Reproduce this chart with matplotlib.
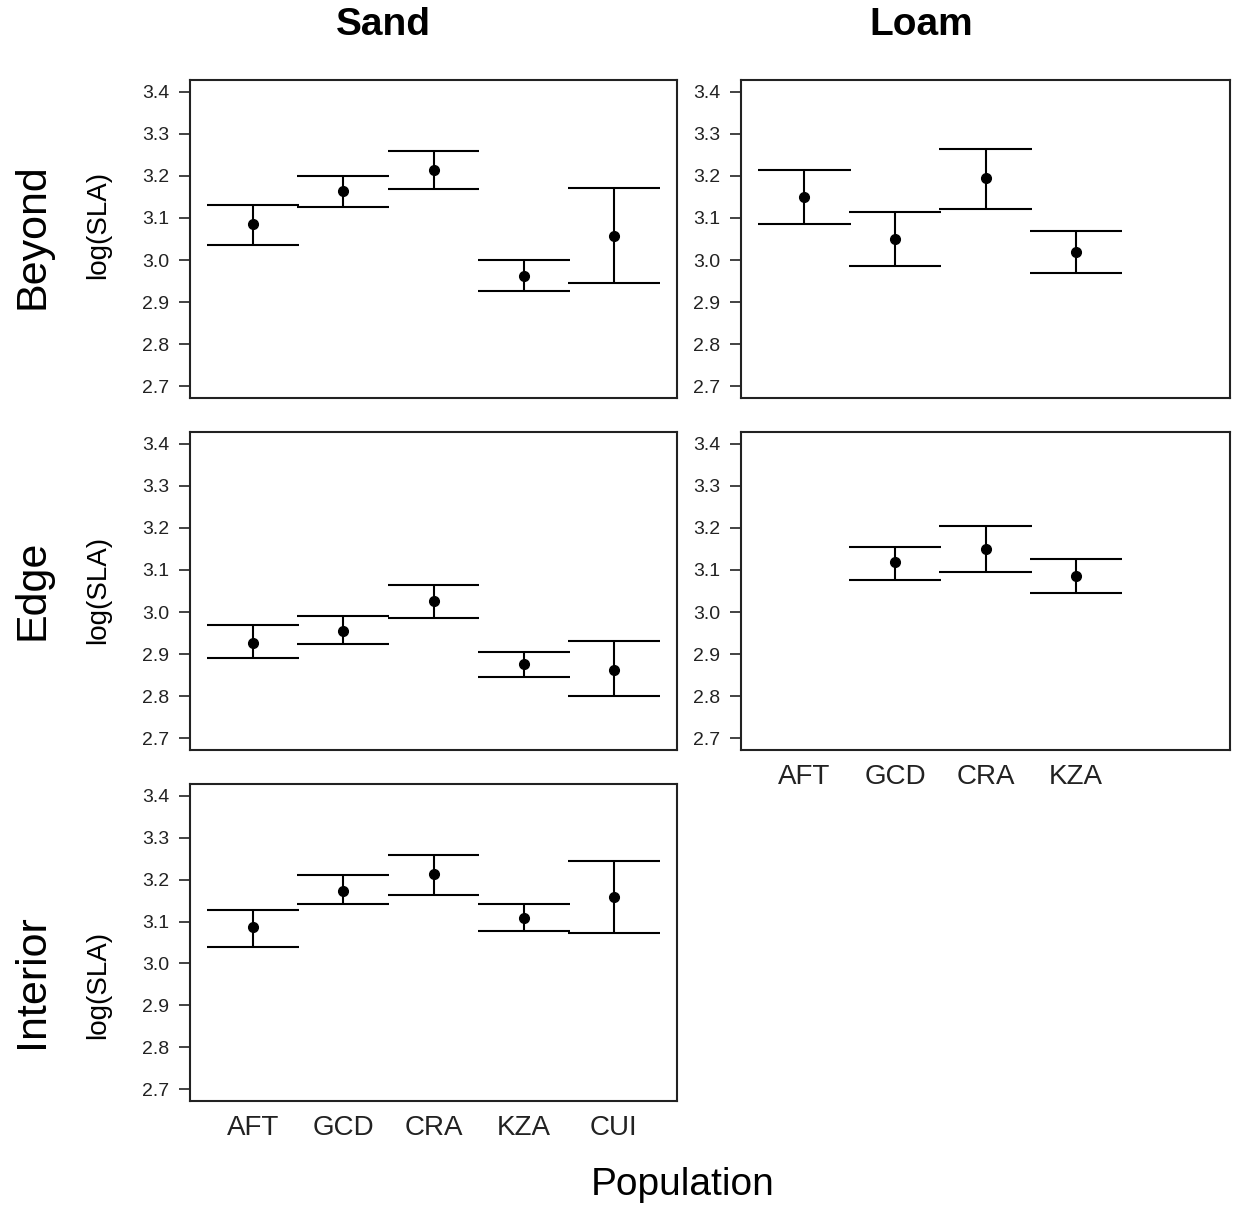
import numpy as np
import matplotlib.pyplot as plt

plt.rcParams['font.family'] = ['Liberation Sans', 'DejaVu Sans']

sand_pops = ['AFT', 'GCD', 'CRA', 'KZA', 'CUI']
loam_pops = ['AFT', 'GCD', 'CRA', 'KZA']
yticks = [2.7, 2.8, 2.9, 3.0, 3.1, 3.2, 3.3, 3.4]

# Sand soil
sand_beyond_mean = [3.086, 3.164, 3.213, 2.963, 3.058]
sand_beyond_lo = [3.036, 3.127, 3.168, 2.927, 2.945]
sand_beyond_hi = [3.132, 3.200, 3.260, 3.000, 3.172]

sand_edge_mean = [2.927, 2.954, 3.027, 2.877, 2.862]
sand_edge_lo = [2.890, 2.923, 2.986, 2.845, 2.800]
sand_edge_hi = [2.968, 2.990, 3.064, 2.904, 2.931]

sand_interior_mean = [3.086, 3.172, 3.214, 3.108, 3.159]
sand_interior_lo = [3.040, 3.141, 3.164, 3.078, 3.073]
sand_interior_hi = [3.127, 3.210, 3.259, 3.141, 3.245]

# Loam soil (no AFT at the edge)
loam_beyond_mean = [3.149, 3.050, 3.195, 3.018]
loam_beyond_lo = [3.086, 2.986, 3.122, 2.968]
loam_beyond_hi = [3.214, 3.115, 3.264, 3.069]

loam_edge_mean = [np.nan, 3.118, 3.149, 3.086]
loam_edge_lo = [np.nan, 3.077, 3.095, 3.045]
loam_edge_hi = [np.nan, 3.154, 3.205, 3.127]

W, H = 1236, 1207
fig = plt.figure(figsize=(W / 100, H / 100), dpi=100)


def box(left, top, right, bottom):
    return [left / W, 1 - bottom / H, (right - left) / W, (bottom - top) / H]


def panel(rect, pops, mean, lo, hi, show_x):
    ax = fig.add_axes(rect)
    x = np.arange(1, len(pops) + 1)
    mean = np.array(mean)
    lo = np.array(lo)
    hi = np.array(hi)
    ok = ~np.isnan(mean)
    ax.vlines(x[ok], lo[ok], hi[ok], color='black', lw=1.5)
    ax.hlines(hi[ok], x[ok] - 0.51, x[ok] + 0.51, color='black', lw=1.5)
    ax.hlines(lo[ok], x[ok] - 0.51, x[ok] + 0.51, color='black', lw=1.5)
    ax.plot(x[ok], mean[ok], 'o', color='black', ms=7)
    ax.set_xlim(0.3, 5.7)
    ax.set_ylim(2.672, 3.428)
    ax.set_yticks(yticks)
    ax.set_yticklabels([f'{v:.1f}' for v in yticks])
    ax.tick_params(axis='y', length=8, width=1.2, pad=7, labelsize=14, colors='#222222')
    if show_x:
        ax.set_xticks(x)
        ax.set_xticklabels(pops)
        ax.tick_params(axis='x', length=0, pad=10, labelsize=20, colors='#222222')
    else:
        ax.set_xticks([])
    for s in ax.spines.values():
        s.set_linewidth(1.5)
        s.set_color('#222222')
    return ax


panel(box(190, 80, 677, 398), sand_pops, sand_beyond_mean, sand_beyond_lo, sand_beyond_hi, False)
panel(box(741, 80, 1230, 398), loam_pops, loam_beyond_mean, loam_beyond_lo, loam_beyond_hi, False)
panel(box(190, 432, 677, 750), sand_pops, sand_edge_mean, sand_edge_lo, sand_edge_hi, False)
panel(box(741, 432, 1230, 750), loam_pops, loam_edge_mean, loam_edge_lo, loam_edge_hi, True)
panel(box(190, 784, 677, 1101), sand_pops, sand_interior_mean, sand_interior_lo, sand_interior_hi, True)

# column titles
fig.text(383 / W, 1 - 25 / H, 'Sand', ha='center', va='center', fontsize=28, fontweight='bold')
fig.text(921 / W, 1 - 25 / H, 'Loam', ha='center', va='center', fontsize=28, fontweight='bold')

# row labels
for name, yc, yl in [('Beyond', 236, 225), ('Edge', 590, 590), ('Interior', 981, 985)]:
    fig.text(32 / W, 1 - yc / H, name, rotation=90, ha='center', va='center', fontsize=31)
    fig.text(98 / W, 1 - yl / H, 'log(SLA)', rotation=90, ha='center', va='center', fontsize=20)

fig.text(683 / W, 1 - 1185 / H, 'Population', ha='center', va='center', fontsize=28)

fig.savefig('out.png', dpi=100)
